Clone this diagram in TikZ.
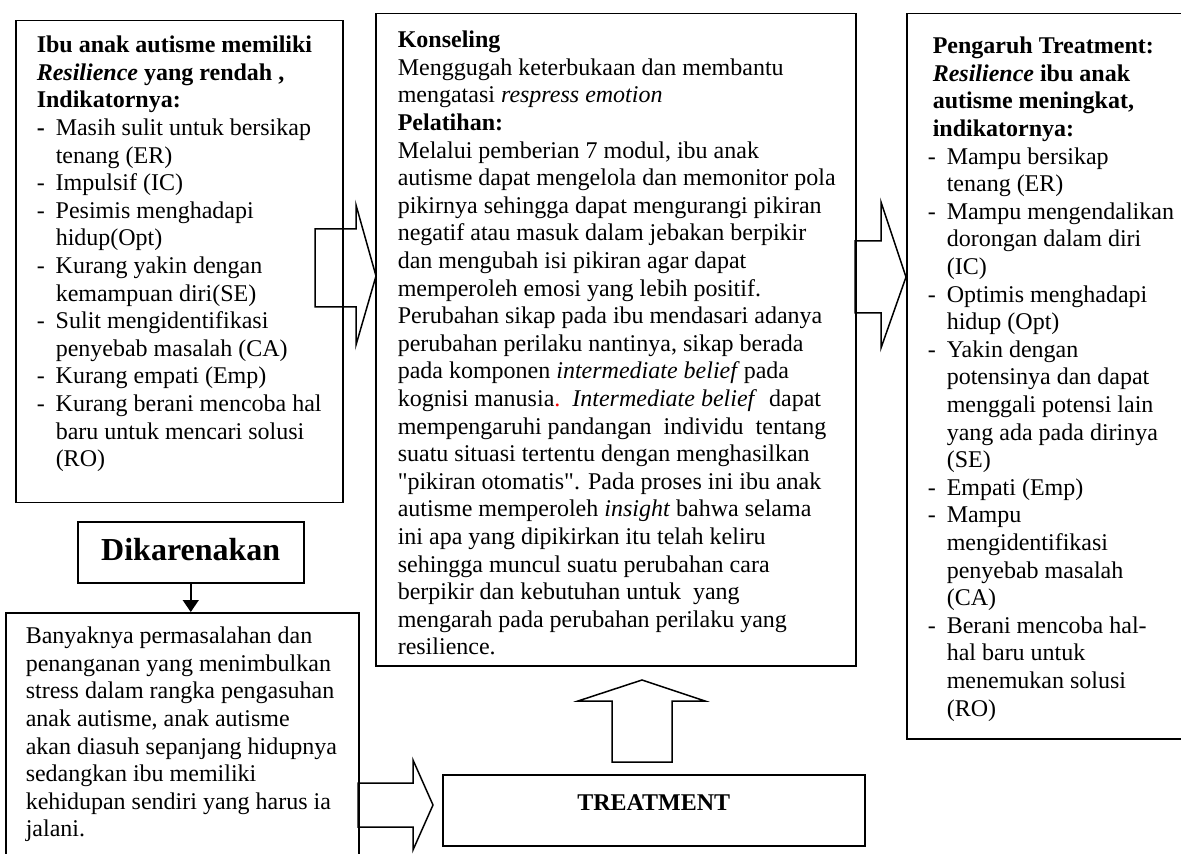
\documentclass[tikz,border=0pt]{standalone}
\usepackage{fontspec}
\setmainfont{Liberation Serif}
\usetikzlibrary{arrows.meta}

\newcommand{\itemdash}{\makebox[9.5pt][l]{-}}
\newcommand{\itemgap}{\hspace*{9.5pt}}
\newcommand{\firstline}{\rule{0pt}{10pt}}

\tikzset{every picture/.style={line width=0.75pt}}
\tikzset{
  box/.style={draw, anchor=north west, inner sep=0pt},
  boxtext/.style={anchor=north west, inner sep=0pt, align=left, font=\fontsize{12}{13.8}\selectfont},
}

\begin{document}
\begin{tikzpicture}[x=0.5pt,y=0.5pt,yscale=-1]
\useasboundingbox (0,0) rectangle (1181,854);

%Shape: Rectangle
\node[box, minimum width=163.5pt, minimum height=241pt] (ibu) at (15,20) {};
%Shape: Rectangle
\node[box, minimum width=113pt, text height=19.5pt, text depth=11pt, font=\fontsize{16}{18}\selectfont\bfseries] (dik) at (77,521) {Dikarenakan};
%Shape: Rectangle
\node[box, minimum width=176.5pt, minimum height=129pt] (sebab) at (5,612) {};
%Shape: Rectangle
\node[box, minimum width=240pt, minimum height=326pt] (konseling) at (375,13) {};
%Shape: Rectangle
\node[box, minimum width=170pt, minimum height=362.5pt] (hasil) at (906,13) {};
%Shape: Rectangle
\node[box, minimum width=211pt, text height=18pt, text depth=17.5pt, font=\fontsize{12}{14}\selectfont\bfseries] (treat) at (442,774) {TREATMENT};

%Straight Lines
\draw[-{Triangle[length=6pt,width=8pt]}] (dik.south) -- (dik.south |- sebab.north);

%Shape: Right Arrow
\draw (315,229) -- (356,229) -- (356,205) -- (376,276) -- (356,345) -- (356,307) -- (315,307) -- cycle;
%Shape: Right Arrow
\draw (855,241) -- (881,241) -- (881,202) -- (906,277) -- (881,348) -- (881,313) -- (855,313) -- cycle;
%Shape: Right Arrow
\draw (358,783) -- (413,783) -- (413,760) -- (433,805) -- (413,850) -- (413,827) -- (358,827) -- cycle;
%Shape: Up Arrow
\draw (612,762) -- (612,701) -- (578,701) -- (642,680) -- (705,701) -- (672,701) -- (672,762) -- cycle;

% Text Node
\node[boxtext] (ibutext) at (36,32) {\firstline\textbf{Ibu anak autisme memiliki}\\
\textbf{\textit{Resilience} yang rendah ,}\\
\textbf{Indikatornya:}\\
{\bfseries\itemdash}Masih sulit untuk bersikap\\
\itemgap tenang (ER)\\
\itemdash Impulsif (IC)\\
\itemdash Pesimis menghadapi\\
\itemgap hidup(Opt)\\
\itemdash Kurang yakin dengan\\
\itemgap kemampuan diri(SE)\\
\itemdash Sulit mengidentifikasi\\
\itemgap penyebab masalah (CA)\\
\itemdash Kurang empati (Emp)\\
\itemdash Kurang berani mencoba hal\\
\itemgap baru untuk mencari solusi\\
\itemgap (RO)};

% Text Node
\node[boxtext] (sebabtext) at (25,623) {\firstline Banyaknya permasalahan dan\\
penanganan yang menimbulkan\\
stress dalam rangka pengasuhan\\
anak autisme, anak autisme\\
akan diasuh sepanjang hidupnya\\
sedangkan ibu memiliki\\
kehidupan sendiri yang harus ia\\
jalani.};

% Text Node
\node[boxtext] (konselingtext) at (397,27) {\firstline\textbf{Konseling}\\
Menggugah keterbukaan dan membantu\\
mengatasi \textit{respress emotion}\\
\textbf{Pelatihan:}\\
Melalui pemberian 7 modul, ibu anak\\
autisme dapat mengelola dan memonitor pola\\
pikirnya sehingga dapat mengurangi pikiran\\
negatif atau masuk dalam jebakan berpikir\\
dan mengubah isi pikiran agar dapat\\
memperoleh emosi yang lebih positif.\\
Perubahan sikap pada ibu mendasari adanya\\
perubahan perilaku nantinya, sikap berada\\
pada komponen \textit{intermediate belief}\,pada\\
kognisi manusia{\color{red}.}\ \ \textit{Intermediate belief}\ \ dapat\\
mempengaruhi pandangan\ \ individu\ \ tentang\\
suatu situasi tertentu dengan menghasilkan\\
\textquotedbl pikiran otomatis\textquotedbl. Pada proses ini ibu anak\\
autisme memperoleh \textit{insight} bahwa selama\\
ini apa yang dipikirkan itu telah keliru\\
sehingga muncul suatu perubahan cara\\
berpikir dan kebutuhan untuk\ \ yang\\
mengarah pada perubahan perilaku yang\\
resilience.};

% Text Node
\node[boxtext] (hasiltext) at (927,33) {\firstline\hspace*{2.5pt}\textbf{Pengaruh Treatment:}\\
\hspace*{2.5pt}\textbf{\textit{Resilience} ibu anak}\\
\hspace*{2.5pt}\textbf{autisme meningkat,}\\
\hspace*{2.5pt}\textbf{indikatornya:}\\
\itemdash Mampu bersikap\\
\itemgap tenang (ER)\\
\itemdash Mampu mengendalikan\\
\itemgap dorongan dalam diri\\
\itemgap (IC)\\
\itemdash Optimis menghadapi\\
\itemgap hidup (Opt)\\
\itemdash Yakin dengan\\
\itemgap potensinya dan dapat\\
\itemgap menggali potensi lain\\
\itemgap yang ada pada dirinya\\
\itemgap (SE)\\
\itemdash Empati (Emp)\\
\itemdash Mampu\\
\itemgap mengidentifikasi\\
\itemgap penyebab masalah\\
\itemgap (CA)\\
\itemdash Berani mencoba hal-\\
\itemgap hal baru untuk\\
\itemgap menemukan solusi\\
\itemgap (RO)};

\end{tikzpicture}
\end{document}
